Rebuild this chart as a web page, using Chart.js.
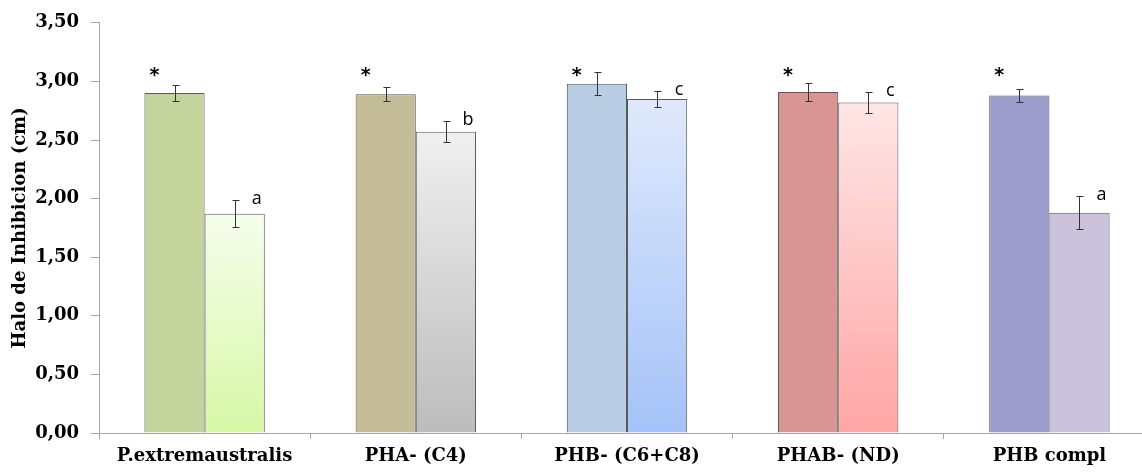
<!DOCTYPE html>
<html>
<head>
<meta charset="utf-8">
<script src="https://cdn.jsdelivr.net/npm/chart.js@4.4.1/dist/chart.umd.min.js"></script>
<style>
  html, body { margin: 0; padding: 0; background: #fff; overflow: hidden; }
  #wrap { width: 1160px; height: 472px; position: relative; }
</style>
</head>
<body>
<div id="wrap"><canvas id="chart"></canvas></div>
<script>
// Halo de inhibición por cepa: control (primera barra) y tratamiento (segunda barra)
const categories = ['P.extremaustralis', 'PHA- (C4)', 'PHB- (C6+C8)', 'PHAB- (ND)', 'PHB compl'];
const controlValues = [2.90, 2.89, 2.98, 2.91, 2.88];
const controlErrors = [0.07, 0.06, 0.10, 0.08, 0.055];
const treatedValues = [1.87, 2.57, 2.85, 2.82, 1.88];
const treatedErrors = [0.115, 0.09, 0.07, 0.09, 0.14];
const controlMarks = ['*', '*', '*', '*', '*'];
const treatedLetters = ['a', 'b', 'c', 'c', 'a'];
const yTicks = [0, 0.5, 1, 1.5, 2, 2.5, 3, 3.5];

// bar fills
const controlColors = ['#c3d59c', '#c4bc96', '#b9cde4', '#d89594', '#9c9dcd'];
const treatedTop = ['#f6fdec', '#f0f0f0', '#dfe9fb', '#ffe6e6', '#cbc2dc'];
const treatedBottom = ['#d7f8a6', '#bcbcbc', '#a4c2f8', '#ffa5a5', '#cbc2dc'];

const serif = '"DejaVu Serif", serif';
const edge = 'rgba(60,60,60,0.85)';

function treatedFill(ctx) {
  const chart = ctx.chart;
  const area = chart.chartArea;
  if (!area) return treatedBottom[ctx.dataIndex];
  const y = chart.scales.y;
  const top = y.getPixelForValue(treatedValues[ctx.dataIndex]);
  const bottom = y.getPixelForValue(0);
  const g = chart.ctx.createLinearGradient(0, top, 0, bottom);
  g.addColorStop(0, treatedTop[ctx.dataIndex]);
  g.addColorStop(1, treatedBottom[ctx.dataIndex]);
  return g;
}

// error bars plus significance marks
const errorBarPlugin = {
  id: 'errorBars',
  afterDatasetsDraw(chart) {
    const c = chart.ctx;
    const y = chart.scales.y;
    const sets = [
      { meta: chart.getDatasetMeta(0), vals: controlValues, errs: controlErrors },
      { meta: chart.getDatasetMeta(1), vals: treatedValues, errs: treatedErrors }
    ];
    c.save();
    c.strokeStyle = '#333';
    c.lineWidth = 1;
    sets.forEach((s, di) => {
      s.meta.data.forEach((bar, i) => {
        const x = Math.round(bar.x) + 0.5;
        const yt = Math.round(y.getPixelForValue(s.vals[i] + s.errs[i])) + 0.5;
        const yb = Math.round(y.getPixelForValue(s.vals[i] - s.errs[i])) + 0.5;
        c.beginPath();
        c.moveTo(x, yt); c.lineTo(x, yb);
        c.moveTo(x - 3, yt); c.lineTo(x + 4, yt);
        c.moveTo(x - 3, yb); c.lineTo(x + 4, yb);
        c.stroke();
        c.fillStyle = '#000';
        c.textAlign = 'center';
        c.textBaseline = 'middle';
        if (di === 0) {
          c.font = 'bold 19px "DejaVu Sans", sans-serif';
          c.fillText(controlMarks[i], bar.x - bar.width / 2 + 10, y.getPixelForValue(3.08) + 4);
        } else {
          c.font = '18px "Open Sans", sans-serif';
          c.fillText(treatedLetters[i], bar.x + 22, yt - 2);
        }
      });
    });
    c.restore();
  }
};

new Chart(document.getElementById('chart'), {
  type: 'bar',
  data: {
    labels: categories,
    datasets: [
      {
        data: controlValues,
        backgroundColor: controlColors,
        borderColor: edge,
        borderWidth: 1,
        barPercentage: 1,
        categoryPercentage: 0.57
      },
      {
        data: treatedValues,
        backgroundColor: treatedFill,
        borderColor: edge,
        borderWidth: 1,
        barPercentage: 1,
        categoryPercentage: 0.57
      }
    ]
  },
  options: {
    responsive: true,
    maintainAspectRatio: false,
    animation: false,
    layout: { padding: { left: 0, right: 5, top: 22, bottom: 0 } },
    plugins: { legend: { display: false }, tooltip: { enabled: false } },
    scales: {
      x: {
        grid: { display: true, drawOnChartArea: false, offset: true, tickLength: 6, color: '#a6a6a6' },
        border: { color: '#a6a6a6' },
        ticks: { color: '#000', font: { family: serif, weight: 'bold', size: 18 }, padding: 7, maxRotation: 0 },
        afterFit(scale) { scale.height = 39; }
      },
      y: {
        min: 0,
        max: 3.5,
        afterBuildTicks(scale) { scale.ticks = yTicks.map(v => ({ value: v })); },
        grid: { display: true, drawOnChartArea: false, tickLength: 8, color: '#a6a6a6' },
        border: { color: '#a6a6a6' },
        ticks: {
          color: '#000',
          padding: 12,
          font: { family: serif, weight: 'bold', size: 18 },
          callback: v => v.toFixed(2).replace('.', ',')
        },
        title: {
          display: true,
          text: 'Halo de Inhibicion (cm)',
          color: '#000',
          font: { family: serif, weight: 'bold', size: 18 },
          padding: { top: 10, bottom: 4 }
        },
        afterFit(scale) { scale.width = 99; }
      }
    }
  },
  plugins: [errorBarPlugin]
});
</script>
</body>
</html>
